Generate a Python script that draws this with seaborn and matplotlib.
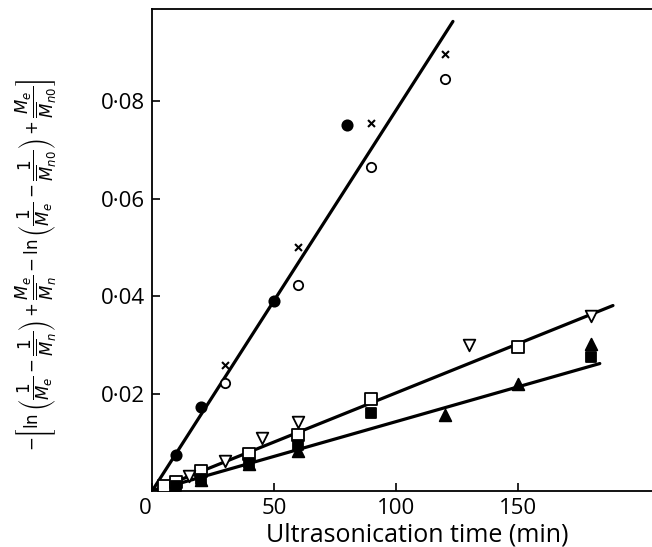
import matplotlib
matplotlib.use("Agg")
import matplotlib.pyplot as plt
import seaborn as sns
import pandas as pd

# ---- data ----
fcirc_x = [10, 20, 50, 80]
fcirc_y = [0.0074, 0.0172, 0.0390, 0.0752]
cross_x = [30, 60, 90, 120]
cross_y = [0.0260, 0.0502, 0.0755, 0.0897]
ocirc_x = [30, 60, 90, 120]
ocirc_y = [0.0222, 0.0424, 0.0665, 0.0845]
osq_x = [5, 10, 20, 40, 60, 90, 150]
osq_y = [0.0010, 0.0018, 0.0041, 0.0076, 0.0116, 0.0189, 0.0295]
otri_x = [15, 30, 45, 60, 130, 180]
otri_y = [0.0031, 0.0062, 0.0110, 0.0141, 0.0301, 0.0360]
fsq_x = [10, 20, 40, 60, 90, 180]
fsq_y = [0.0010, 0.0025, 0.0057, 0.0095, 0.0160, 0.0275]
ftri_x = [20, 40, 60, 120, 150, 180]
ftri_y = [0.0022, 0.0055, 0.0082, 0.0157, 0.0220, 0.0302]

# fitted lines (end points)
line1_x = [0, 123.4]
line1_y = [0.0, 0.0964]
line2_x = [0, 189]
line2_y = [0.0, 0.0381]
line3_x = [0, 183.6]
line3_y = [0.0, 0.0262]

xticks = [0, 50, 100, 150]
xticklabels = ["0", "50", "100", "150"]
yticks = [0.02, 0.04, 0.06, 0.08]
yticklabels = ["0·02", "0·04", "0·06", "0·08"]

sns.set_theme(style="white")
plt.rcParams["font.family"] = ["Open Sans", "DejaVu Sans"]
plt.rcParams["mathtext.fontset"] = "dejavusans"
plt.rcParams["text.color"] = "black"
plt.rcParams["axes.labelcolor"] = "black"
plt.rcParams["xtick.color"] = "black"
plt.rcParams["ytick.color"] = "black"

fig = plt.figure(figsize=(6.52, 5.47), dpi=100)
ax = fig.add_axes([0.233, 0.102, 0.767, 0.882])

for lx, ly in [(line1_x, line1_y), (line2_x, line2_y), (line3_x, line3_y)]:
    sns.lineplot(x=lx, y=ly, ax=ax, color="black", linewidth=2.3, zorder=2)

def pts(x, y, marker, face, size=60, lw=1.3):
    sns.scatterplot(x=x, y=y, ax=ax, marker=marker, s=size,
                    facecolor=face, edgecolor="black", linewidth=lw, zorder=3)

pts(fcirc_x, fcirc_y, "o", "black", 55)
pts(ocirc_x, ocirc_y, "o", "white", 45, 1.3)
sns.scatterplot(x=cross_x, y=cross_y, ax=ax, marker="x", s=25,
                color="black", linewidth=1.5, zorder=3)
pts(osq_x, osq_y, "s", "white", 65)
pts(otri_x, otri_y, "v", "white", 70)
pts(fsq_x, fsq_y, "s", "black", 60)
pts(ftri_x, ftri_y, "^", "black", 70)

ax.set_xlim(0, 205)
ax.set_ylim(0, 0.099)
ax.set_xticks(xticks)
ax.set_xticklabels(xticklabels, fontsize=16)
ax.set_yticks(yticks)
ax.set_yticklabels(yticklabels, fontsize=16)
ax.tick_params(direction="in", length=6, width=1.2, color="black",
               labelcolor="black", left=True, bottom=True, pad=5)
ax.get_xticklabels()[0].set_horizontalalignment("right")

for s in ["right"]:
    ax.spines[s].set_visible(False)
for s in ["left", "bottom", "top"]:
    ax.spines[s].set_color("black")
    ax.spines[s].set_linewidth(1.3)

ax.set_xlabel("Ultrasonication time (min)", fontsize=18, color="black")
ax.xaxis.set_label_coords(0.53, -0.064)
ylabel = (r"$-\left[\ln\left(\dfrac{1}{M_e}-\dfrac{1}{\overline{M}_n}\right)"
          r"+\dfrac{M_e}{\overline{M}_n}"
          r"-\ln\left(\dfrac{1}{M_e}-\dfrac{1}{\overline{M}_{n0}}\right)"
          r"+\dfrac{M_e}{\overline{M}_{n0}}\right]$")
ax.set_ylabel(ylabel, fontsize=12, color="black")
ax.yaxis.set_label_coords(-0.185, 0.47)

fig.savefig("out.png", dpi=100)
